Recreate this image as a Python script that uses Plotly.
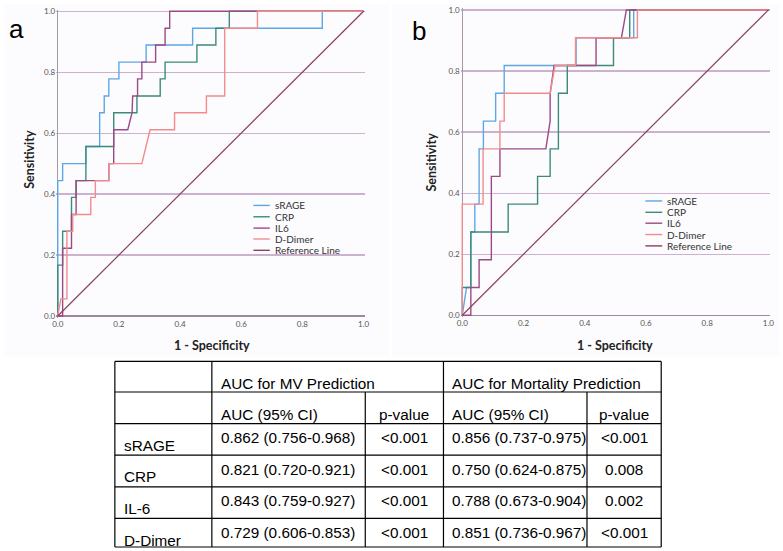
import plotly.graph_objects as go

W, H = 783, 551

# ---------------- data ----------------
series_names = ["sRAGE", "CRP", "IL6", "D-Dimer"]
series_colors = ["#5ea7e4", "#3c8b7a", "#9c4a86", "#f28c8c"]
ref_color = "#8e3f5c"

# Panel a: MV prediction ROC
a_srage_x = [0, 0, 0.016, 0.016, 0.092, 0.092, 0.137, 0.137, 0.152, 0.152, 0.167, 0.167, 0.2, 0.2, 0.289, 0.289, 0.441, 0.441, 0.865, 0.865, 1.0]
a_srage_y = [0, 0.444, 0.444, 0.5, 0.5, 0.556, 0.556, 0.667, 0.667, 0.722, 0.722, 0.778, 0.778, 0.833, 0.833, 0.889, 0.889, 0.944, 0.944, 1.0, 1.0]
a_crp_x = [0, 0, 0.016, 0.016, 0.045, 0.045, 0.06, 0.06, 0.092, 0.092, 0.183, 0.183, 0.259, 0.259, 0.335, 0.335, 0.351, 0.351, 0.455, 0.455, 0.517, 0.517, 0.561, 0.561, 1.0]
a_crp_y = [0, 0.167, 0.167, 0.278, 0.278, 0.389, 0.389, 0.444, 0.444, 0.556, 0.556, 0.667, 0.667, 0.722, 0.722, 0.778, 0.778, 0.833, 0.833, 0.889, 0.889, 0.944, 0.944, 1.0, 1.0]
a_il6_x = [0, 0.016, 0.016, 0.045, 0.045, 0.06, 0.06, 0.167, 0.167, 0.183, 0.183, 0.229, 0.243, 0.245, 0.261, 0.261, 0.275, 0.275, 0.32, 0.32, 0.351, 0.351, 0.366, 0.366, 1.0]
a_il6_y = [0, 0, 0.222, 0.222, 0.333, 0.333, 0.444, 0.444, 0.5, 0.5, 0.611, 0.611, 0.667, 0.722, 0.722, 0.778, 0.778, 0.833, 0.833, 0.889, 0.889, 0.944, 0.944, 1.0, 1.0]
a_dd_x = [0, 0.01, 0.03, 0.03, 0.049, 0.049, 0.108, 0.108, 0.123, 0.123, 0.167, 0.167, 0.275, 0.302, 0.382, 0.382, 0.486, 0.486, 0.546, 0.546, 0.653, 0.653, 1.0]
a_dd_y = [0, 0.056, 0.056, 0.278, 0.278, 0.333, 0.333, 0.389, 0.389, 0.444, 0.444, 0.5, 0.5, 0.611, 0.611, 0.667, 0.667, 0.722, 0.722, 0.944, 0.944, 1.0, 1.0]

# Panel b: mortality prediction ROC
b_srage_x = [0, 0.014, 0.028, 0.028, 0.041, 0.041, 0.055, 0.055, 0.069, 0.069, 0.109, 0.109, 0.137, 0.137, 0.372, 0.372, 0.56, 0.56, 1.0]
b_srage_y = [0, 0.091, 0.091, 0.273, 0.273, 0.364, 0.364, 0.545, 0.545, 0.636, 0.636, 0.727, 0.727, 0.818, 0.818, 0.909, 0.909, 1.0, 1.0]
b_crp_x = [0, 0, 0.028, 0.028, 0.15, 0.15, 0.246, 0.246, 0.287, 0.287, 0.314, 0.314, 0.343, 0.343, 0.494, 0.494, 0.547, 0.547, 1.0]
b_crp_y = [0, 0.091, 0.091, 0.273, 0.273, 0.364, 0.364, 0.455, 0.455, 0.545, 0.545, 0.727, 0.727, 0.818, 0.818, 0.909, 0.909, 1.0, 1.0]
b_il6_x = [0, 0.028, 0.028, 0.055, 0.055, 0.095, 0.095, 0.123, 0.123, 0.273, 0.287, 0.287, 0.3, 0.437, 0.437, 0.52, 0.536, 1.0]
b_il6_y = [0, 0, 0.091, 0.091, 0.182, 0.182, 0.455, 0.455, 0.545, 0.545, 0.636, 0.727, 0.818, 0.818, 0.909, 0.909, 1.0, 1.0]
b_dd_x = [0, 0, 0.068, 0.068, 0.123, 0.123, 0.137, 0.137, 0.287, 0.303, 0.37, 0.37, 0.572, 0.572, 1.0]
b_dd_y = [0, 0.364, 0.364, 0.545, 0.545, 0.636, 0.636, 0.727, 0.727, 0.818, 0.818, 0.909, 0.909, 1.0, 1.0]

ref_x = [0, 1]
ref_y = [0, 1]

tick_vals = [0, 0.2, 0.4, 0.6, 0.8, 1.0]
tick_text = ["0.0", "0.2", "0.4", "0.6", "0.8", "1.0"]

# Table
markers = ["sRAGE", "CRP", "IL-6", "D-Dimer"]
mv_auc = ["0.862 (0.756-0.968)", "0.821 (0.720-0.921)", "0.843 (0.759-0.927)", "0.729 (0.606-0.853)"]
mv_p = ["<0.001", "<0.001", "<0.001", "<0.001"]
mort_auc = ["0.856 (0.737-0.975)", "0.750 (0.624-0.875)", "0.788 (0.673-0.904)", "0.851 (0.736-0.967)"]
mort_p = ["<0.001", "0.008", "0.002", "<0.001"]

# ---------------- helpers ----------------
def px(x):
    return x / W

def py(y):
    return 1 - y / H

PAD = 0.005

def domain_x(x0, x1):
    span = x1 - x0
    return [px(x0 - PAD * span), px(x1 + PAD * span)]

def domain_y(y0, y1):  # y0 = pixel of value 0 (bottom), y1 = pixel of value 1 (top)
    span = y0 - y1
    return [py(y0 + PAD * span), py(y1 - PAD * span)]

fig = go.Figure()

panels = [
    ("x", "y", [(a_srage_x, a_srage_y), (a_crp_x, a_crp_y), (a_il6_x, a_il6_y), (a_dd_x, a_dd_y)]),
    ("x2", "y2", [(b_srage_x, b_srage_y), (b_crp_x, b_crp_y), (b_il6_x, b_il6_y), (b_dd_x, b_dd_y)]),
]
for xa, ya, curves in panels:
    for name, color, (cx, cy) in zip(series_names, series_colors, curves):
        fig.add_trace(go.Scatter(x=cx, y=cy, mode="lines", name=name, xaxis=xa, yaxis=ya,
                                 line=dict(color=color, width=1.4), showlegend=False,
                                 hoverinfo="skip"))
    fig.add_trace(go.Scatter(x=ref_x, y=ref_y, mode="lines", name="Reference Line", xaxis=xa, yaxis=ya,
                             line=dict(color=ref_color, width=1.2), showlegend=False, hoverinfo="skip"))

tick_font = dict(family="Lato, DejaVu Sans, sans-serif", size=8, color="#555555")
common_x = dict(range=[-PAD, 1 + PAD], tickvals=tick_vals, ticktext=tick_text, showgrid=False,
                zeroline=True, zerolinecolor="#a898aa", zerolinewidth=1.5, showline=False,
                ticks="", tickfont=tick_font, fixedrange=True)
common_y = dict(range=[-PAD, 1 + PAD], tickvals=tick_vals, ticktext=tick_text, showgrid=True,
                gridcolor="#cdb2d0", gridwidth=1.2, zeroline=True, zerolinecolor="#9f86a5",
                zerolinewidth=1.5, showline=False, ticks="", tickfont=tick_font, fixedrange=True)

fig.update_layout(
    width=W, height=H,
    margin=dict(l=0, r=0, t=0, b=0),
    paper_bgcolor="white",
    plot_bgcolor="rgba(0,0,0,0)",
    xaxis=dict(domain=domain_x(54.3, 363.3), anchor="y", **common_x),
    yaxis=dict(domain=domain_y(316, 7.3), anchor="x", **common_y),
    xaxis2=dict(domain=domain_x(463, 772.3), anchor="y2", **common_x),
    yaxis2=dict(domain=domain_y(315.3, 6), anchor="x2", **common_y),
)

shapes = []
annotations = []

# light background of the chart images
shapes.append(dict(type="rect", xref="paper", yref="paper", x0=0, x1=px(390), y0=py(357), y1=1,
                   fillcolor="#fcfbfd", line=dict(width=0), layer="below"))
shapes.append(dict(type="rect", xref="paper", yref="paper", x0=px(392), x1=1, y0=py(357), y1=1,
                   fillcolor="#fcfbfd", line=dict(width=0), layer="below"))

title_font = dict(family="Lato, DejaVu Sans, sans-serif", size=12.5, color="#222222")
# axis titles and panel letters
for sx, sy, tx, ty, letter, lx, ly in [(25, 157, 210, 346, "a", 13, 25), (432, 160, 617.5, 346, "b", 419, 27)]:
    annotations.append(dict(text="<b>Sensitivity</b>", x=px(sx), y=py(sy), xref="paper", yref="paper",
                            textangle=-90, showarrow=False, font=title_font, xanchor="center", yanchor="middle"))
    annotations.append(dict(text="<b>1 - Specificity</b>", x=px(tx), y=py(ty), xref="paper", yref="paper",
                            showarrow=False, font=title_font, xanchor="center", yanchor="middle"))
    annotations.append(dict(text=letter, x=px(lx), y=py(ly), xref="paper", yref="paper", showarrow=False,
                            font=dict(family="Liberation Sans, Arial, sans-serif", size=26, color="black"),
                            xanchor="center", yanchor="middle"))

# legends
legend_names = series_names + ["Reference Line"]
legend_colors = series_colors + [ref_color]
leg_font = dict(family="Lato, DejaVu Sans, sans-serif", size=10, color="#333333")
for lx0, lx1, tx, ys in [(252, 268.5, 271.5, [204, 215.5, 227, 238, 249.5]),
                         (648, 665, 668, [199.5, 211, 222, 233.5, 245])]:
    for nm, col, yy in zip(legend_names, legend_colors, ys):
        shapes.append(dict(type="line", xref="paper", yref="paper", x0=px(lx0), x1=px(lx1),
                           y0=py(yy), y1=py(yy), line=dict(color=col, width=1.4)))
        annotations.append(dict(text=nm, x=px(tx), y=py(yy), xref="paper", yref="paper", showarrow=False,
                                font=leg_font, xanchor="left", yanchor="middle"))

# ---------------- table ----------------
T_LEFT, T_RIGHT = 112, 664
C1, C2, C3, C4 = 210, 365, 444, 589
R_TOP, R_H1, R_H2 = 362, 393, 425
row_tops = [425, 457, 489, 521]
R_BOT = 550
line_style = dict(color="black", width=1.2)

def hline(x0, x1, y):
    shapes.append(dict(type="line", xref="paper", yref="paper", x0=px(x0), x1=px(x1), y0=py(y), y1=py(y), line=line_style))

def vline(x, y0, y1):
    shapes.append(dict(type="line", xref="paper", yref="paper", x0=px(x), x1=px(x), y0=py(y0), y1=py(y1), line=line_style))

for yy in [R_TOP, R_H1, R_H2] + row_tops[1:] + [R_BOT]:
    hline(T_LEFT, T_RIGHT, yy)
for xx in [T_LEFT, C1, C3, T_RIGHT]:
    vline(xx, R_TOP, R_BOT)
for xx in [C2, C4]:
    vline(xx, R_H1, R_BOT)

tfont = dict(family="Liberation Sans, Arial, sans-serif", size=15.3, color="black")

def txt(s, x, y, anchor="left"):
    annotations.append(dict(text=s, x=px(x), y=py(y), xref="paper", yref="paper", showarrow=False,
                            font=tfont, xanchor=anchor, yanchor="middle", borderpad=0))

txt("AUC for MV Prediction", 218, 384)
txt("AUC for Mortality Prediction", 452, 384)
txt("AUC (95% CI)", 218, 416)
txt("p-value", (C2 + C3) / 2, 416, "center")
txt("AUC (95% CI)", 452, 416)
txt("p-value", (C4 + T_RIGHT) / 2, 416, "center")

for top, m, a1, p1, a2, p2 in zip(row_tops, markers, mv_auc, mv_p, mort_auc, mort_p):
    txt(m, 120, top + 22)
    txt(a1, 218, top + 14)
    txt(p1, (C2 + C3) / 2, top + 14, "center")
    txt(a2, 452, top + 14)
    txt(p2, (C4 + T_RIGHT) / 2, top + 14, "center")

fig.update_layout(shapes=shapes, annotations=annotations)

fig.write_html("out.html",
               config={"displayModeBar": False, "staticPlot": True},
               post_script="document.body.style.margin='0';document.body.style.padding='0';"
                           "document.documentElement.style.overflow='hidden';")
